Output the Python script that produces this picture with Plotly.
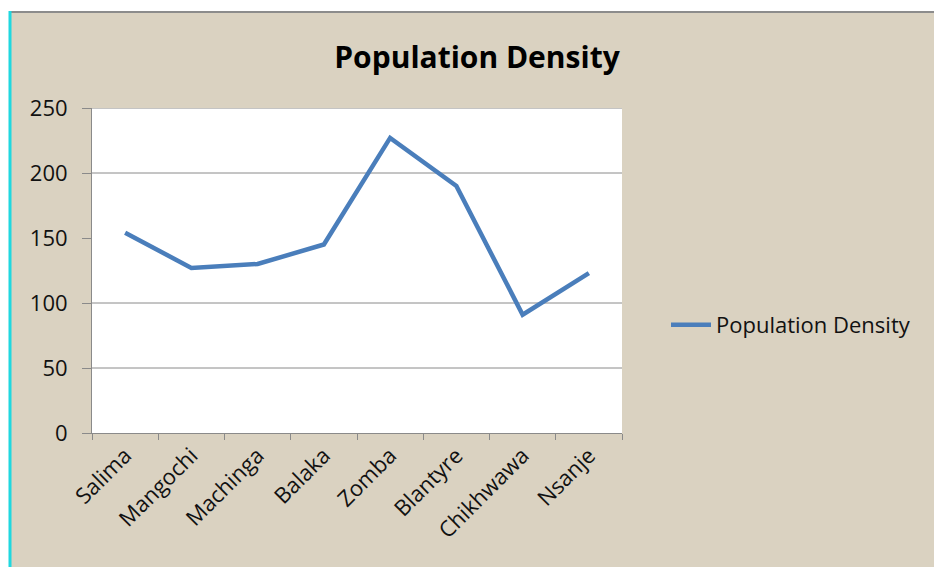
import plotly.graph_objects as go

# Population density by district
districts = ["Salima", "Mangochi", "Machinga", "Balaka", "Zomba",
             "Blantyre", "Chikhwawa", "Nsanje"]
density = [154, 127, 130, 145, 227, 190, 91, 123]

y_ticks = [0, 50, 100, 150, 200, 250]
grid_values = [50, 100, 200, 250]

W, H = 934, 567
ML, MR, MT, MB = 92, 312, 108, 134
PW, PH = W - ML - MR, H - MT - MB

BG = "#dad2c1"
LINE = "#4a7ebb"
GRID = "#8a8a8a"
FONT = "Open Sans"


def px_x(x):
    return (x - ML) / PW


def px_y(y):
    return (H - MB - y) / PH


fig = go.Figure()
fig.add_trace(go.Scatter(
    x=districts, y=density, mode="lines", name="Population Density",
    line=dict(color=LINE, width=4.5),
))

shapes = []
# horizontal gridlines
for g in grid_values:
    shapes.append(dict(type="line", xref="paper", yref="y", x0=0, x1=1,
                       y0=g, y1=g, line=dict(color=GRID, width=1),
                       layer="below"))
# white strip on top and left, frame lines
shapes.append(dict(type="rect", xref="paper", yref="paper",
                   x0=px_x(0), x1=px_x(W), y0=px_y(11), y1=px_y(0),
                   fillcolor="white", line=dict(width=0)))
shapes.append(dict(type="rect", xref="paper", yref="paper",
                   x0=px_x(0), x1=px_x(9), y0=px_y(H), y1=px_y(0),
                   fillcolor="white", line=dict(width=0)))
shapes.append(dict(type="line", xref="paper", yref="paper",
                   x0=px_x(10), x1=px_x(W), y0=px_y(12), y1=px_y(12),
                   line=dict(color="#8c8c8c", width=2)))
shapes.append(dict(type="line", xref="paper", yref="paper",
                   x0=px_x(10), x1=px_x(10), y0=px_y(11), y1=px_y(H),
                   line=dict(color="#1fd8e0", width=3)))

fig.update_layout(
    width=W, height=H,
    margin=dict(l=ML, r=MR, t=MT, b=MB),
    paper_bgcolor=BG,
    plot_bgcolor="white",
    font=dict(family=FONT, color="#111111"),
    title=dict(text="<b>Population Density</b>", xref="container",
               yref="container", x=477 / W, y=1 - 57 / H,
               xanchor="center", yanchor="middle",
               font=dict(size=30, family=FONT, color="#000000")),
    showlegend=True,
    legend=dict(x=px_x(666), y=px_y(325), xanchor="left", yanchor="middle",
                bgcolor="rgba(0,0,0,0)", font=dict(size=22, family=FONT),
                itemwidth=40),
    shapes=shapes,
    xaxis=dict(
        type="category", range=[-0.5, len(districts) - 0.5],
        tickangle=-45, tickson="boundaries",
        ticks="outside", ticklen=6, tickcolor=GRID, showline=True,
        linecolor=GRID, linewidth=1, showgrid=False, zeroline=False,
        tickfont=dict(size=22, family=FONT),
    ),
    yaxis=dict(
        range=[0, 250], tickvals=y_ticks, ticks="outside", ticklen=9,
        tickcolor=GRID, showline=True, linecolor=GRID, linewidth=1,
        showgrid=False, zeroline=False, tickfont=dict(size=22, family=FONT),
        ticklabelstandoff=10,
    ),
)

fig.write_html("out.html")
